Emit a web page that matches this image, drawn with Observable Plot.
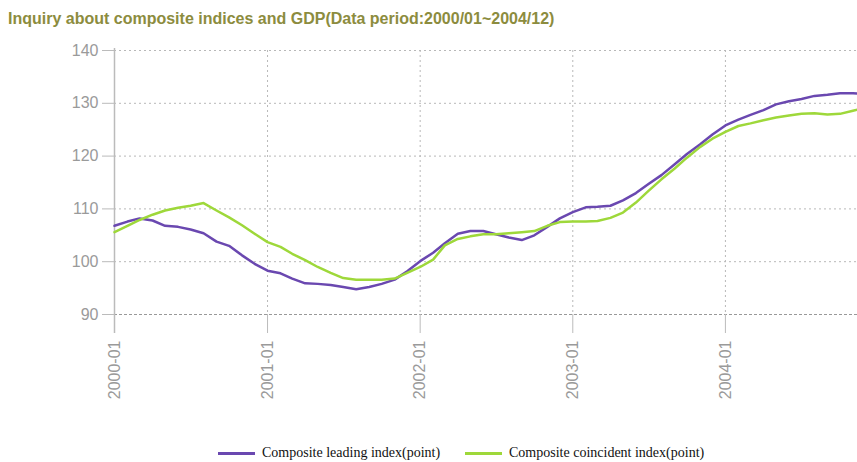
<!DOCTYPE html>
<html>
<head>
<meta charset="utf-8">
<script src="https://cdn.jsdelivr.net/npm/d3@7"></script>
<script src="https://cdn.jsdelivr.net/npm/@observablehq/plot@0.6"></script>
<style>
  html, body { margin: 0; padding: 0; background: #fff; overflow: hidden; width: 857px; height: 462px; }
  #title { height: 30px; padding-left: 8px; font: bold 16px "Liberation Sans", Arial, sans-serif; color: #8c8c3e; line-height: 38px; white-space: nowrap; }
  #chart { width: 866px; }
  #chart svg { display: block; overflow: visible; max-width: none !important; }
  #legend { position: absolute; top: 442px; left: 0; width: 857px; font: 14px "Liberation Serif", "Times New Roman", serif; color: #111; white-space: nowrap; }
  .item { position: absolute; top: 0; display: flex; align-items: center; height: 22px; }
  .sw { display: inline-block; width: 37px; height: 3px; margin-right: 7px; }
</style>
</head>
<body>
<div id="title">Inquiry about composite indices and GDP(Data period:2000/01~2004/12)</div>
<div id="chart"></div>
<div id="legend"></div>
<script>
const seriesNames = ["Composite leading index(point)", "Composite coincident index(point)"];
const seriesColors = ["#6a48b0", "#9ed83a"];
const yTicks = [90, 100, 110, 120, 130, 140];
const months = d3.utcMonths(new Date(Date.UTC(2000, 0, 1)), new Date(Date.UTC(2005, 0, 1)));
const yearTicks = d3.utcYears(new Date(Date.UTC(2000, 0, 1)), new Date(Date.UTC(2005, 0, 1)));

const leading = [
  106.8, 107.6, 108.2, 107.8, 106.8, 106.6, 106.1, 105.4, 103.8, 103.0, 101.2, 99.6,
  98.3, 97.8, 96.8, 95.9, 95.8, 95.6, 95.2, 94.8, 95.2, 95.8, 96.6, 98.2,
  100.1, 101.7, 103.5, 105.3, 105.8, 105.8, 105.2, 104.6, 104.1, 105.0, 106.6, 108.2,
  109.4, 110.3, 110.4, 110.6, 111.6, 113.0, 114.7, 116.4, 118.4, 120.4, 122.2, 124.1,
  125.8, 126.9, 127.8, 128.7, 129.8, 130.4, 130.8, 131.4, 131.6, 131.9, 131.9, 131.8
];
const coincident = [
  105.6, 106.8, 107.9, 108.9, 109.7, 110.2, 110.6, 111.1, 109.7, 108.4, 106.9, 105.3,
  103.7, 102.8, 101.5, 100.3, 99.0, 97.9, 96.9, 96.6, 96.6, 96.6, 96.8, 97.9,
  99.0, 100.4, 103.1, 104.3, 104.8, 105.2, 105.2, 105.4, 105.6, 105.8, 106.8, 107.5,
  107.6, 107.6, 107.7, 108.3, 109.3, 111.2, 113.4, 115.6, 117.6, 119.7, 121.7, 123.3,
  124.6, 125.7, 126.2, 126.8, 127.3, 127.7, 128.0, 128.1, 127.9, 128.0, 128.6, 129.1
];

const rows = [];
months.forEach((m, i) => {
  rows.push({date: m, value: leading[i], series: seriesNames[0]});
  rows.push({date: m, value: coincident[i], series: seriesNames[1]});
});

const plot = Plot.plot({
  width: 866,
  height: 400,
  marginTop: 20,
  marginBottom: 116,
  marginLeft: 114,
  marginRight: 1,
  style: {fontFamily: "'Liberation Sans', Arial, sans-serif", fontSize: "16px", color: "#9a9a9a", background: "transparent", maxWidth: "none"},
  x: {type: "utc", domain: [months[0], months[months.length - 1]]},
  y: {domain: [90, 140]},
  color: {domain: seriesNames, range: seriesColors},
  marks: [
    Plot.gridY(yTicks.filter(d => d > 90), {stroke: "#b8b8b8", strokeOpacity: 1, strokeDasharray: "2,3", x1: months[0], x2: months[months.length - 1]}),
    Plot.ruleY(yTicks.filter(d => d > 90), {x1: months[0], x2: months[0], dx: -12, stroke: "#bbb"}),
    Plot.gridX(yearTicks.slice(1), {stroke: "#b8b8b8", strokeOpacity: 1, strokeDasharray: "2,3"}),
    Plot.ruleY([90], {stroke: "#999", strokeDasharray: "3,2"}),
    Plot.axisY(yTicks, {tickSize: 12, tickPadding: 4, stroke: "#bbb", fill: "#9a9a9a", label: null}),
    Plot.axisX(yearTicks.slice(0, 5), {tickSize: 19, tickPadding: 7, tickRotate: -90, tickFormat: d3.utcFormat("%Y-%m"), stroke: "#bbb", fill: "#9a9a9a", label: null}),
    Plot.ruleX([months[0]], {y1: 140.4, y2: 86.4, stroke: "#bbb", strokeWidth: 1.5}),
    Plot.line(rows, {x: "date", y: "value", z: "series", stroke: "series", strokeWidth: 2.5, curve: "linear"})
  ]
});
document.getElementById("chart").appendChild(plot);

const legend = document.getElementById("legend");
const legendLeft = [218, 465];
seriesNames.forEach((name, i) => {
  const item = document.createElement("div");
  item.className = "item";
  item.style.left = legendLeft[i] + "px";
  const sw = document.createElement("span");
  sw.className = "sw";
  sw.style.background = seriesColors[i];
  item.appendChild(sw);
  item.appendChild(document.createTextNode(name));
  legend.appendChild(item);
});
</script>
</body>
</html>
